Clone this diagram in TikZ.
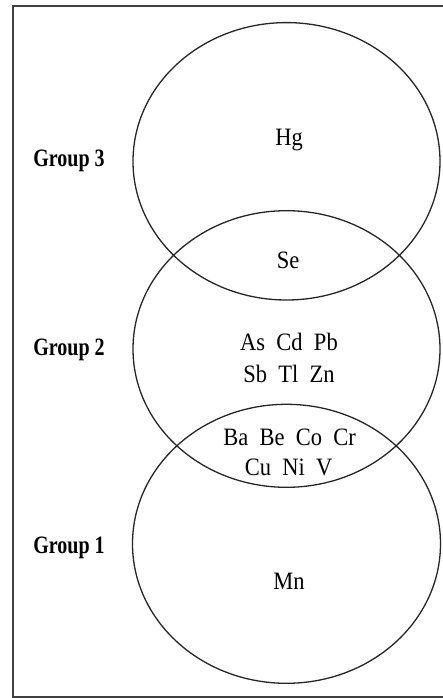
\documentclass[tikz,border=0pt]{standalone}
\usepackage{fontspec}
\setmainfont{Liberation Serif}
\usepackage{graphicx}
\newcommand{\sqz}[1]{\scalebox{0.9}[1]{#1}}
\newcommand{\sqzb}[1]{\scalebox{0.8}[1]{\bfseries #1}}
\begin{document}
\begin{tikzpicture}[x=1pt,y=-1pt,
  setc/.style={draw=black!85,line width=1.3pt},
  elem/.style={anchor=base,inner sep=0pt,font=\fontsize{25}{32}\selectfont,text=black},
  grp/.style={anchor=base,inner sep=0pt,font=\fontsize{25}{32}\selectfont,text=black}]
\clip (0,0) rectangle (443,698);
\fill[white] (0,0) rectangle (443,698);
% frame
\draw[black!75,line width=1.8pt] (460,6) -- (13,6) -- (13,697) -- (460,697);
% sets
\draw[setc] (286.5,161.3) ellipse [x radius=153.5, y radius=138.7];
\draw[setc] (286.5,349) ellipse [x radius=153.5, y radius=138.3];
\draw[setc] (286.5,543.8) ellipse [x radius=154, y radius=139.5];
% group labels
\node[grp] (g3) at (69,166) {\sqzb{Group 3}};
\node[grp] (g2) at (69,355) {\sqzb{Group 2}};
\node[grp] (g1) at (69,553) {\sqzb{Group 1}};
% elements
\node[elem] (hg) at (289,145) {\sqz{Hg}};
\node[elem] (se) at (288,268) {\sqz{Se}};
\node[elem] (as) at (289,350) {\sqz{As\ \ Cd\ \ Pb}};
\node[elem] (sb) at (289,382) {\sqz{Sb\ \ Tl\ \ Zn}};
\node[elem] (ba) at (289.5,445) {\sqz{Ba\ \ Be\ \ Co\ \ Cr}};
\node[elem] (cu) at (288.5,475) {\sqz{Cu\ \ Ni\ \ V}};
\node[elem] (mn) at (289,589) {\sqz{Mn}};
\end{tikzpicture}
\end{document}
